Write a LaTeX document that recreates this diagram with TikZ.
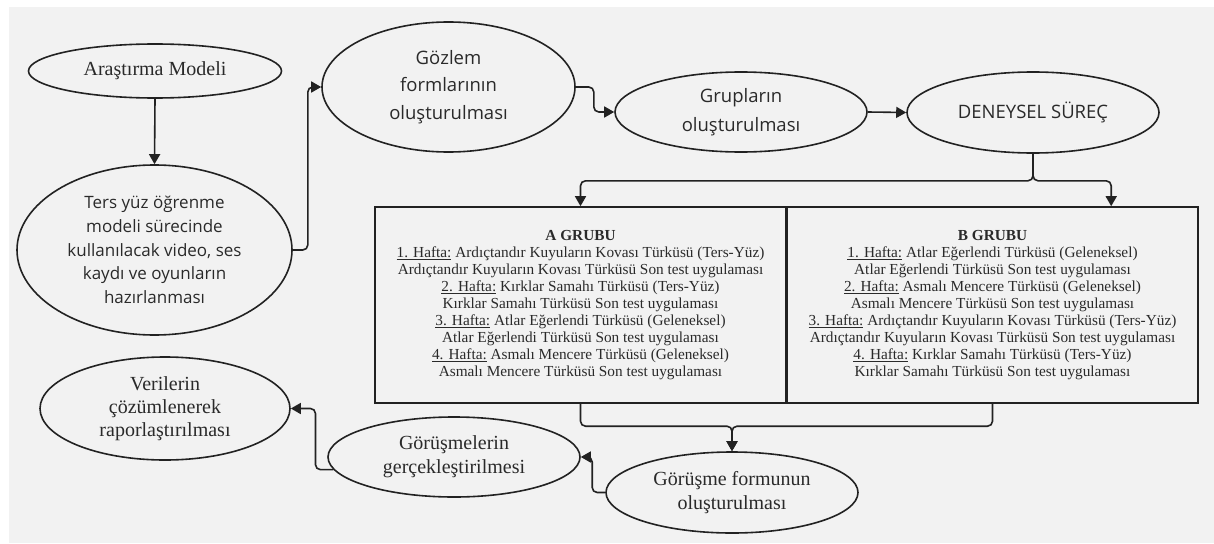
\documentclass[tikz,border=0pt]{standalone}
\usepackage{fontspec}
\setmainfont{Liberation Serif}
\newfontfamily\osans{Open Sans}
\usetikzlibrary{shapes.geometric,arrows.meta,calc}
\definecolor{bg}{HTML}{F2F2F2}
\definecolor{ln}{HTML}{222222}
\definecolor{tx}{HTML}{2A2A2A}
\begin{document}
\begin{tikzpicture}[x=1pt,y=-1pt,
  ell/.style={draw=ln, line width=1.6pt, ellipse, inner sep=0pt, align=center, text=tx},
  serifA/.style={font=\fontsize{20}{24}\selectfont},
  boxst/.style={draw=ln, line width=1.6pt, rectangle, inner sep=0pt,
     minimum width=411pt, minimum height=196pt, align=center, text=tx,
     font=\fontsize{15.3}{16.9}\selectfont},
  conn/.style={draw=ln, line width=1.6pt, rounded corners=5pt, -{Triangle[length=10pt,width=11pt]}}
]
\fill[white] (0,0) rectangle (1214,543);
\useasboundingbox (0,0) rectangle (1214,543);
\fill[bg] (9,7) rectangle (1214,543);

\node[ell, serifA, minimum width=253pt, minimum height=54pt] (am) at (155,71) {Araştırma Modeli};
\node[ell, font=\osans\fontsize{17}{23.7}\selectfont, minimum width=275pt, minimum height=170pt] (ters) at (154.5,250)
  {Ters yüz öğrenme\\modeli sürecinde\\kullanılacak video, ses\\kaydı ve oyunların\\hazırlanması};
\node[ell, font=\osans\fontsize{18.5}{27.5}\selectfont, minimum width=253pt, minimum height=130pt] (goz) at (448.5,87)
  {Gözlem\\formlarının\\oluşturulması};
\node[ell, font=\osans\fontsize{18.5}{29}\selectfont, minimum width=252pt, minimum height=80pt] (grup) at (741,112)
  {Grupların\\oluşturulması};
\node[ell, font=\osans\fontsize{18.5}{24}\selectfont, minimum width=252pt, minimum height=81pt] (den) at (1033,112.5)
  {DENEYSEL SÜREÇ};

\node[boxst] (ba) at (580.5,305) {\textbf{A GRUBU}\\
\underline{1. Hafta:} Ardıçtandır Kuyuların Kovası Türküsü (Ters-Yüz)\\
Ardıçtandır Kuyuların Kovası Türküsü Son test uygulaması\\
\underline{2. Hafta:} Kırklar Samahı Türküsü (Ters-Yüz)\\
Kırklar Samahı Türküsü Son test uygulaması\\
\underline{3. Hafta:} Atlar Eğerlendi Türküsü (Geleneksel)\\
Atlar Eğerlendi Türküsü Son test uygulaması\\
\underline{4. Hafta:} Asmalı Mencere Türküsü (Geleneksel)\\
Asmalı Mencere Türküsü Son test uygulaması};
\node[boxst] (bb) at (992.5,305) {\textbf{B GRUBU}\\
\underline{1. Hafta:} Atlar Eğerlendi Türküsü (Geleneksel)\\
Atlar Eğerlendi Türküsü Son test uygulaması\\
\underline{2. Hafta:} Asmalı Mencere Türküsü (Geleneksel)\\
Asmalı Mencere Türküsü Son test uygulaması\\
\underline{3. Hafta:} Ardıçtandır Kuyuların Kovası Türküsü (Ters-Yüz)\\
Ardıçtandır Kuyuların Kovası Türküsü Son test uygulaması\\
\underline{4. Hafta:} Kırklar Samahı Türküsü (Ters-Yüz)\\
Kırklar Samahı Türküsü Son test uygulaması};

\node[ell, serifA, minimum width=252pt, minimum height=81pt] (form) at (732,492.5)
  {Görüşme formunun\\oluşturulması};
\node[ell, serifA, minimum width=252pt, minimum height=80pt] (gor) at (454,457)
  {Görüşmelerin\\gerçekleştirilmesi};
\node[ell, font=\fontsize{20}{23}\selectfont, minimum width=250pt, minimum height=103pt] (ver) at (165,408.5)
  {Verilerin\\çözümlenerek\\raporlaştırılması};

\coordinate (split) at ($(den.south)+(0,27)$);
\coordinate (bin) at ($(bb.north west)+(325,0)$);
\coordinate (merge) at ($(form.north)+(0,-25)$);

\draw[conn] (am.south) -- (ters.north);
\draw[conn] (ters.east) -- ++(15,0) |- (goz.west);
\draw[conn] (goz.east) -- ++(18,0) |- (grup.west);
\draw[conn] (grup.east) -- (den.west);
\draw[conn] (den.south) -- (split) -| (ba.north);
\draw[conn] (den.south) -- (split) -| (bin);
\draw[conn] (ba.south) |- (merge) -- (form.north);
\draw[conn] (bb.south) |- (merge) -- (form.north);
\draw[conn] (form.west) -- ++(-13,0) |- (gor.east);
\draw[conn] (gor.186) -- ++(-18,0) |- (ver.east);
\end{tikzpicture}
\end{document}
